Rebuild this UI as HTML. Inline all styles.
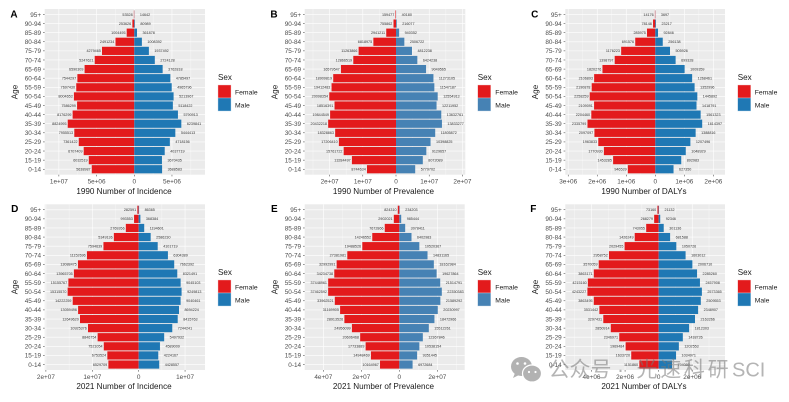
<!DOCTYPE html>
<html lang="en">
<head>
<meta charset="utf-8">
<title>Age-sex pyramids 1990 and 2021</title>
<style>
html,body{margin:0;padding:0;background:#fff;width:789px;height:402px;overflow:hidden}
svg{display:block;font-family:"Liberation Sans","Noto Sans CJK SC",sans-serif}
.letter{font-size:10px;font-weight:bold;fill:#000;text-anchor:middle}
.axis-title{font-size:8.15px;fill:#1a1a1a;text-anchor:middle}
.legend-title{font-size:8.1px;fill:#1a1a1a}
.legend-label{font-size:6.8px;fill:#1a1a1a}
</style>
</head>
<body>
<svg id="chart" width="789" height="402" viewBox="0 0 789 402" xmlns="http://www.w3.org/2000/svg">
  <rect width="789" height="402" fill="#fff"/>

  <g id="panel-a">
    <g class="marks"></g>
    <text class="letter" x="14" y="17.5">A</text>
    <text class="axis-title" x="124" y="194">1990 Number of Incidence</text>
    <text class="axis-title" transform="translate(17.5 92) rotate(-90)">Age</text>
    <g>
      <text class="legend-title" x="218" y="79.8">Sex</text>
      <rect x="218" y="85" width="13" height="13" fill="#E31A1C" stroke="#f3c9c9" stroke-width=".4"/>
      <rect x="218" y="98" width="13" height="13" fill="#1F78B4" stroke="#b9d6ea" stroke-width=".4"/>
      <text class="legend-label" x="235" y="94.3">Female</text>
      <text class="legend-label" x="235" y="107.6">Male</text>
    </g>
  </g>

  <g id="panel-b">
    <g class="marks"></g>
    <text class="letter" x="274" y="17.5">B</text>
    <text class="axis-title" x="383.5" y="194">1990 Number of Prevalence</text>
    <text class="axis-title" transform="translate(277.5 92) rotate(-90)">Age</text>
    <g>
      <text class="legend-title" x="477.7" y="79.8">Sex</text>
      <rect x="477.7" y="85" width="13" height="13" fill="#E31A1C" stroke="#f3c9c9" stroke-width=".4"/>
      <rect x="477.7" y="98" width="13" height="13" fill="#4682B4" stroke="#c5d8e8" stroke-width=".4"/>
      <text class="legend-label" x="495.3" y="94.3">Female</text>
      <text class="legend-label" x="495.3" y="107.6">Male</text>
    </g>
  </g>

  <g id="panel-c">
    <g class="marks"></g>
    <text class="letter" x="534.7" y="17.5">C</text>
    <text class="axis-title" x="644" y="194">1990 Number of DALYs</text>
    <text class="axis-title" transform="translate(538 92) rotate(-90)">Age</text>
    <g>
      <text class="legend-title" x="737.7" y="79.8">Sex</text>
      <rect x="737.7" y="85" width="13" height="13" fill="#E31A1C" stroke="#f3c9c9" stroke-width=".4"/>
      <rect x="737.7" y="98" width="13" height="13" fill="#1F78B4" stroke="#b9d6ea" stroke-width=".4"/>
      <text class="legend-label" x="754.7" y="94.3">Female</text>
      <text class="legend-label" x="754.7" y="107.6">Male</text>
    </g>
  </g>

  <g id="panel-d">
    <g class="marks"></g>
    <text class="letter" x="14.7" y="212">D</text>
    <text class="axis-title" x="124" y="389">2021 Number of Incidence</text>
    <text class="axis-title" transform="translate(17.5 287) rotate(-90)">Age</text>
    <g>
      <text class="legend-title" x="218" y="274.8">Sex</text>
      <rect x="218" y="280" width="13" height="13" fill="#E31A1C" stroke="#f3c9c9" stroke-width=".4"/>
      <rect x="218" y="293" width="13" height="13" fill="#1F78B4" stroke="#b9d6ea" stroke-width=".4"/>
      <text class="legend-label" x="235" y="289.3">Female</text>
      <text class="legend-label" x="235" y="302.6">Male</text>
    </g>
  </g>

  <g id="panel-e">
    <g class="marks"></g>
    <text class="letter" x="274.3" y="212">E</text>
    <text class="axis-title" x="383.5" y="389">2021 Number of Prevalence</text>
    <text class="axis-title" transform="translate(277.5 287) rotate(-90)">Age</text>
    <g>
      <text class="legend-title" x="477.7" y="274.8">Sex</text>
      <rect x="477.7" y="280" width="13" height="13" fill="#E31A1C" stroke="#f3c9c9" stroke-width=".4"/>
      <rect x="477.7" y="293" width="13" height="13" fill="#4682B4" stroke="#c5d8e8" stroke-width=".4"/>
      <text class="legend-label" x="495.3" y="289.3">Female</text>
      <text class="legend-label" x="495.3" y="302.6">Male</text>
    </g>
  </g>

  <g id="panel-f">
    <g class="marks"></g>
    <text class="letter" x="533.3" y="212">F</text>
    <text class="axis-title" x="644" y="389">2021 Number of DALYs</text>
    <text class="axis-title" transform="translate(538 287) rotate(-90)">Age</text>
    <g>
      <text class="legend-title" x="737.7" y="274.8">Sex</text>
      <rect x="737.7" y="280" width="13" height="13" fill="#E31A1C" stroke="#f3c9c9" stroke-width=".4"/>
      <rect x="737.7" y="293" width="13" height="13" fill="#1F78B4" stroke="#b9d6ea" stroke-width=".4"/>
      <text class="legend-label" x="754.7" y="289.3">Female</text>
      <text class="legend-label" x="754.7" y="302.6">Male</text>
    </g>
  </g>

  <g>
    <g fill="#b2b2b2">
      <ellipse cx="521.5" cy="366.5" rx="10.5" ry="9.5"/>
      <path d="M515 373 l-2 5 l6 -3z"/>
      <ellipse cx="532" cy="373.5" rx="9.5" ry="8.5" stroke="#fff" stroke-width="1.2"/>
      <circle cx="517.5" cy="363.5" r="1.3" fill="#fff"/>
      <circle cx="525" cy="363.5" r="1.3" fill="#fff"/>
      <circle cx="529" cy="372" r="1.1" fill="#fff"/>
      <circle cx="535.5" cy="372" r="1.1" fill="#fff"/>
    </g>
    <text y="376.5" font-size="21" fill="#777" fill-opacity=".55"><tspan x="548.5">公众号</tspan><tspan x="617">·</tspan><tspan x="636.5" letter-spacing="2.7">光速科研</tspan><tspan x="732" font-size="20">SCI</tspan></text>
  </g>
</svg>

<script>
const ageGroups = ['95+','90-94','85-89','80-84','75-79','70-74','65-69','60-64','55-59','50-54','45-49','40-44','35-39','30-34','25-29','20-24','15-19','0-14'];

const femaleIncidence1990 = [53528,253626,1004495,2491234,4279465,5247621,6590309,7544297,7697430,8004653,7586299,8176299,8824995,7955513,7361422,6707409,6032519,5638987];
const maleIncidence1990 = [14642,80989,361878,1008392,1937492,2724128,3762818,4785497,4965796,5213967,5118422,5790913,6239841,5444413,4718156,4037719,3670435,3688583];
const femalePrevalence1990 = [159477,755862,2941211,6818975,11263866,12866519,16579547,18909819,19412483,20098354,18516391,19844549,20432218,18328863,17206410,15761722,13284497,8744634];
const malePrevalence1990 = [40180,216077,940352,2506722,4812238,6424238,9049565,11273105,11547187,12554913,12211952,13632761,13833277,11805872,10398825,9129657,8072089,5779702];
const femaleDalys1990 = [14176,78148,285975,691576,1176223,1398797,1820276,2106893,2190878,2258259,2109091,2204460,2335799,2097097,1963833,1770930,1453285,946539];
const maleDalys1990 = [3697,23217,92846,256138,505926,699328,1009359,1268461,1352996,1445892,1418791,1561323,1614397,1388816,1207496,1048929,892983,627350];
const femaleIncidence2021 = [282591,993553,2769266,5349136,7594639,11152696,13088475,13965705,15155767,15315570,14222259,13059496,12649620,10925376,8846754,7521054,6753524,6529709];
const maleIncidence2021 = [86365,368384,1194601,2586230,4101719,6304389,7662392,8321491,9045103,9249813,9040461,8694224,8415763,7244241,5497932,4589009,4224167,4428557];
const femalePrevalence2021 = [824310,2902021,7672866,14246552,19488526,27381981,32992991,34234738,37448961,37462592,33962521,31169905,28913526,24956099,20606468,17733889,14948469,10164967];
const malePrevalence2021 = [234203,985444,3078411,6402983,10520367,14831165,18162984,19627864,21514791,22350383,21589292,20230997,18472966,15512261,12367846,10538154,9351445,6972684];
const femaleDalys2021 = [73160,268279,743055,1426249,2029455,2958752,3570059,3863171,4215160,4243227,3863495,3531442,3297431,2850914,2346971,1969484,1633720,1151860];
const maleDalys2021 = [21132,92346,301136,681588,1050726,1603012,2006710,2285260,2457908,2573365,2509553,2348907,2163266,1812303,1438726,1202553,1034971,794000];

const ticksIncidence1990 = [-10000000,-5000000,0,5000000];
const tickLabelsIncidence1990 = ['1e+07','5e+06','0','5e+06'];
const ticksPrevalence1990 = [-20000000,-10000000,0,10000000,20000000];
const tickLabelsPrevalence1990 = ['2e+07','1e+07','0','1e+07','2e+07'];
const ticksDalys1990 = [-3000000,-2000000,-1000000,0,1000000,2000000];
const tickLabelsDalys1990 = ['3e+06','2e+06','1e+06','0','1e+06','2e+06'];
const ticksIncidence2021 = [-20000000,-10000000,0,10000000];
const tickLabelsIncidence2021 = ['2e+07','1e+07','0','1e+07'];
const ticksPrevalence2021 = [-40000000,-20000000,0,20000000];
const tickLabelsPrevalence2021 = ['4e+07','2e+07','0','2e+07'];
const ticksDalys2021 = [-4000000,-2000000,0,2000000];
const tickLabelsDalys2021 = ['4e+06','2e+06','0','2e+06'];

const panels = [
  {id:'a',female:femaleIncidence1990,male:maleIncidence1990,ticks:ticksIncidence1990,labels:tickLabelsIncidence1990,xMin:-11880000,xMax:9380000,left:44.7,right:205,top:9,bottom:174.7,maleColor:'#1F78B4'},
  {id:'b',female:femalePrevalence1990,male:malePrevalence1990,ticks:ticksPrevalence1990,labels:tickLabelsPrevalence1990,xMin:-27500000,xMax:20870000,left:304.7,right:465.3,top:9,bottom:174.7,maleColor:'#4682B4'},
  {id:'c',female:femaleDalys1990,male:maleDalys1990,ticks:ticksDalys1990,labels:tickLabelsDalys1990,xMin:-3100000,xMax:2400000,left:565.3,right:725,top:9,bottom:174.7,maleColor:'#1F78B4'},
  {id:'d',female:femaleIncidence2021,male:maleIncidence2021,ticks:ticksIncidence2021,labels:tickLabelsIncidence2021,xMin:-20260000,xMax:14300000,left:44.7,right:205,top:204.3,bottom:370,maleColor:'#1F78B4'},
  {id:'e',female:femalePrevalence2021,male:malePrevalence2021,ticks:ticksPrevalence2021,labels:tickLabelsPrevalence2021,xMin:-49800000,xMax:34400000,left:304.7,right:464.7,top:204.3,bottom:370,maleColor:'#4682B4'},
  {id:'f',female:femaleDalys2021,male:maleDalys2021,ticks:ticksDalys2021,labels:tickLabelsDalys2021,xMin:-5560000,xMax:3950000,left:565.3,right:725,top:204.3,bottom:370,maleColor:'#1F78B4'}
];

const SVG_NS = 'http://www.w3.org/2000/svg';
function make(tag, attrs, parent) {
  const el = document.createElementNS(SVG_NS, tag);
  for (const k in attrs) el.setAttribute(k, attrs[k]);
  parent.appendChild(el);
  return el;
}

const defs = make('defs', {}, document.getElementById('chart'));

panels.forEach(function (p) {
  const root = document.querySelector('#panel-' + p.id + ' .marks');
  const xScale = function (v) {
    return p.left + (v - p.xMin) / (p.xMax - p.xMin) * (p.right - p.left);
  };
  const unit = (p.bottom - p.top) / (ageGroups.length - 1 + 1.2);
  const yScale = function (i) {
    return p.top + (0.6 + i) * unit;
  };
  const barH = unit * 0.9;

  const clip = make('clipPath', {id: 'clip-' + p.id}, defs);
  make('rect', {x: p.left, y: p.top, width: p.right - p.left, height: p.bottom - p.top}, clip);

  const bg = make('rect', {x: p.left, y: p.top, width: p.right - p.left, height: p.bottom - p.top, fill: '#EBEBEB'}, root);
  
  

  const step = p.ticks[1] - p.ticks[0];
  for (let t = p.ticks[0] - step / 2; t < p.xMax; t += step) {
    if (t <= p.xMin) continue;
    const minor = make('line', {x1: xScale(t), x2: xScale(t), y1: p.top, y2: p.bottom, stroke: '#fff', 'stroke-width': 0.3}, root);
    
    
  }

  p.ticks.forEach(function (t, i) {
    const x = xScale(t);
    const grid = make('line', {x1: x, x2: x, y1: p.top, y2: p.bottom, stroke: '#fff', 'stroke-width': 0.6}, root);
    
    
    const tick = make('line', {x1: x, x2: x, y1: p.bottom, y2: p.bottom + 1.7, stroke: '#333', 'stroke-width': 0.5}, root);
    
    
    const label = make('text', {x: x, y: p.bottom + 9, 'text-anchor': 'middle', 'font-size': 6.4, fill: '#4D4D4D'}, root);
    
    
    label.textContent = p.labels[i];
  });

  const clipped = make('g', {'clip-path': 'url(#clip-' + p.id + ')'}, root);
  
  

  ageGroups.forEach(function (age, i) {
    const y = yScale(i);
    const grid = make('line', {x1: p.left, x2: p.right, y1: y, y2: y, stroke: '#fff', 'stroke-width': 0.6}, clipped);
    
    
    const tick = make('line', {x1: p.left - 1.7, x2: p.left, y1: y, y2: y, stroke: '#333', 'stroke-width': 0.5}, root);
    
    
    const label = make('text', {x: p.left - 3.6, y: y + 2.3, 'text-anchor': 'end', 'font-size': 6.4, fill: '#4D4D4D'}, root);
    
    
    label.textContent = age;
  });

  ageGroups.forEach(function (age, i) {
    const y = yScale(i);
    const x0 = xScale(0);
    const xf = xScale(-p.female[i]);
    const xm = xScale(p.male[i]);
    const femaleBar = make('rect', {x: xf, y: y - barH / 2, width: x0 - xf, height: barH, fill: '#E31A1C'}, clipped);
    
    
    const maleBar = make('rect', {x: x0, y: y - barH / 2, width: xm - x0, height: barH, fill: p.maleColor}, clipped);
    
    
  });

  ageGroups.forEach(function (age, i) {
    const y = yScale(i);
    const femaleLabel = make('text', {x: xScale(-p.female[i]) - 1.2, y: y + 1.3, 'text-anchor': 'end', 'font-size': 3.7, fill: '#333'}, clipped);
    
    
    femaleLabel.textContent = String(p.female[i]);
    const maleLabel = make('text', {x: xScale(p.male[i]) + 5.5, y: y + 1.3, 'text-anchor': 'start', 'font-size': 3.7, fill: '#333'}, clipped);
    
    
    maleLabel.textContent = String(p.male[i]);
  });
});
</script>
</body>
</html>
